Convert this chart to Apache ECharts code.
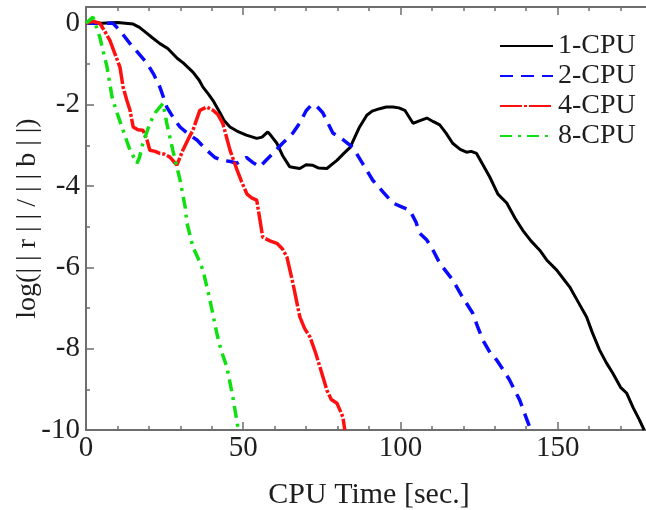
<!DOCTYPE html>
<html lang="en">
<head>
<meta charset="UTF-8">
<title>CPU residual</title>
<style>
    html, body { margin: 0; padding: 0; background: #fff; }
    #main { width: 646px; height: 510px; }
</style>
</head>
<body>
<div id="main"></div>
<script src="https://cdn.jsdelivr.net/npm/echarts@6/dist/echarts.min.js"></script>
<script>
    // series names and [time, log residual] points
    var names = ['1-CPU', '2-CPU', '4-CPU', '8-CPU'];
    var cpu1 = [[0,0],[5,0],[10,0.02],[15,-0.02],[17,-0.1],[19.4,-0.25],[21,-0.35],[23.5,-0.5],[26,-0.62],[29,-0.86],[31,-0.98],[34,-1.2],[36,-1.4],[37.2,-1.57],[39,-1.75],[40.4,-1.9],[42.6,-2.2],[44,-2.4],[45.8,-2.55],[48,-2.65],[51,-2.75],[54.3,-2.83],[56,-2.8],[57.8,-2.67],[59,-2.78],[60.7,-2.95],[62.5,-3.25],[64.8,-3.53],[66.5,-3.55],[68,-3.57],[70,-3.48],[72,-3.49],[74,-3.56],[76.6,-3.57],[78.5,-3.45],[79.8,-3.37],[82,-3.2],[84,-3.05],[85.5,-2.8],[87,-2.55],[89.3,-2.26],[91,-2.16],[93.4,-2.1],[95.5,-2.06],[97.6,-2.06],[99.5,-2.08],[101.4,-2.14],[102.7,-2.3],[104,-2.46],[106,-2.4],[108.4,-2.33],[110.5,-2.42],[112.5,-2.5],[114.5,-2.7],[116.6,-2.95],[119,-3.1],[121,-3.17],[122.5,-3.15],[124.2,-3.2],[126,-3.45],[128.4,-3.78],[131,-4.2],[133.8,-4.42],[136.5,-4.8],[138.9,-5.09],[141.5,-5.35],[144.3,-5.58],[146.5,-5.82],[149.7,-6.07],[151.5,-6.25],[153.8,-6.48],[156.5,-6.85],[159.2,-7.22],[161,-7.6],[163.3,-8.03],[165.5,-8.35],[167.5,-8.6],[170,-8.95],[171.9,-9.09],[174,-9.45],[176,-9.75],[177.5,-10]];
    var cpu2 = [[0,0],[5,0],[8.6,0],[11,-0.2],[14,-0.5],[16.5,-0.72],[19.4,-0.98],[21.5,-1.25],[23.5,-1.57],[25.7,-2.06],[28,-2.35],[29.9,-2.55],[32.5,-2.72],[35.3,-2.87],[38.4,-3.12],[41,-3.3],[43.5,-3.37],[46,-3.4],[48,-3.44],[51,-3.3],[53,-3.42],[55.3,-3.53],[57.5,-3.35],[59.4,-3.2],[62.5,-2.95],[65.8,-2.7],[68,-2.45],[70,-2.15],[71.8,-2.0],[73.5,-2.05],[75.3,-2.2],[78.5,-2.7],[81.5,-2.85],[84.8,-3.05],[88,-3.45],[91.2,-3.86],[94.5,-4.15],[97.6,-4.42],[100,-4.5],[103,-4.6],[105,-4.9],[106.1,-5.16],[108.4,-5.33],[110.5,-5.6],[112.5,-5.9],[114.5,-6.1],[116.6,-6.31],[119.5,-6.7],[123,-7.13],[124.5,-7.45],[126.2,-7.79],[128.5,-8.1],[130.6,-8.28],[132.5,-8.5],[134.7,-8.77],[136.5,-9.05],[137.9,-9.26],[139.5,-9.6],[141.1,-9.93],[141.5,-10]];
    var cpu4 = [[0,0],[2,0.05],[4.4,0],[6,-0.2],[7.6,-0.42],[9.2,-0.75],[10.8,-1.08],[11.8,-1.57],[13,-1.9],[14,-2.14],[15,-2.55],[16.5,-2.62],[18.1,-2.63],[19.4,-2.87],[20.3,-3.12],[22,-3.15],[23.5,-3.2],[25,-3.22],[26.7,-3.29],[28.9,-3.49],[30.8,-3.12],[32.5,-2.85],[34,-2.63],[36.2,-2.14],[38.4,-2.06],[40.4,-2.14],[42,-2.25],[43.5,-2.46],[45.8,-3.12],[48,-3.6],[49.5,-3.9],[51.2,-4.2],[52.8,-4.3],[54.3,-4.35],[56.2,-5.26],[58.5,-5.35],[60.7,-5.41],[62.5,-5.55],[63.9,-5.75],[65.8,-6.39],[68,-7.22],[69.5,-7.5],[71.2,-7.71],[73,-8.1],[74.4,-8.45],[76.6,-9.02],[78,-9.25],[79.8,-9.34],[81.7,-9.68],[82.3,-10]];
    var cpu8 = [[0,0],[2.2,0.15],[4.4,-0.34],[5.5,-0.7],[6.7,-1.08],[8.3,-1.82],[9.9,-2.21],[11.8,-2.63],[13,-2.9],[14,-3.12],[16.2,-3.44],[17,-3.3],[18.1,-2.95],[20.3,-2.46],[22,-2.2],[23.5,-2.06],[24.5,-1.97],[25.7,-2.46],[27.6,-3.12],[29.9,-3.85],[31.5,-4.5],[32.1,-4.91],[34,-5.5],[35.5,-5.75],[37.2,-6.07],[39.4,-6.8],[41.6,-7.62],[43,-8.05],[44.8,-8.45],[46.7,-9.19],[48.3,-9.93],[48.5,-10]];

    var font = 'Liberation Serif';
    var axisGray = '#6e6e6e';
    var textColor = '#1e1e1e';

    var myChart = echarts.init(document.getElementById('main'), null, {renderer: 'canvas'});

    function line(name, data, color, width, dash) {
        return {
            name: name,
            type: 'line',
            data: data,
            symbol: 'circle',
            symbolSize: 0,
            showSymbol: false,
            clip: true,
            lineStyle: {color: color, width: width, type: dash},
            itemStyle: {color: color}
        };
    }

    var xTicks = {
        axisLine: {onZero: false, lineStyle: {color: axisGray, width: 2}},
        axisTick: {inside: true, length: 8, lineStyle: {color: axisGray, width: 1.5}},
        minorTick: {show: true, splitNumber: 5, length: 4, lineStyle: {color: axisGray, width: 1.5}},
        splitLine: {show: false}
    };

    var option = {
        animation: false,
        backgroundColor: '#fff',
        grid: {left: 86, top: 7, right: -6, bottom: 80, outerBoundsMode: 'none', containLabel: false},
        legend: {
            data: names,
            orient: 'vertical',
            left: 499,
            top: 32,
            padding: 0,
            itemWidth: 53,
            itemHeight: 14,
            itemGap: 2,
            itemStyle: {opacity: 0},
            textStyle: {fontFamily: font, fontSize: 28, color: textColor}
        },
        xAxis: [
            Object.assign({
                type: 'value',
                min: 0,
                max: 180,
                interval: 50,
                name: 'CPU Time [sec.]',
                nameLocation: 'middle',
                nameGap: 50,
                nameMoveOverlap: false,
                nameTextStyle: {fontFamily: font, fontSize: 30, color: textColor},
                axisLabel: {
                    fontFamily: font, fontSize: 29, color: textColor, margin: 4,
                    formatter: function (v) { return v % 50 === 0 ? v : ''; }
                }
            }, xTicks),
            Object.assign({
                type: 'value',
                position: 'top',
                min: 0,
                max: 180,
                interval: 50,
                axisLabel: {show: false}
            }, xTicks)
        ],
        yAxis: {
            type: 'value',
            min: -10,
            max: 0.4,
            interval: 2,
            name: 'log(| | r | | / | | b | |)',
            nameLocation: 'middle',
            nameGap: 44,
            nameMoveOverlap: false,
            nameTextStyle: {fontFamily: font, fontSize: 28, color: textColor},
            axisLine: {onZero: false, lineStyle: {color: axisGray, width: 2}},
            axisTick: {inside: true, length: 8, lineStyle: {color: axisGray, width: 1.5}},
            minorTick: {show: true, splitNumber: 2, length: 4, lineStyle: {color: axisGray, width: 1.5}},
            splitLine: {show: false},
            axisLabel: {
                fontFamily: font, fontSize: 29, color: textColor, margin: 6,
                formatter: function (v) { return v % 2 === 0 ? v : ''; }
            }
        },
        series: [
            line(names[0], cpu1, '#000000', 3, 'solid'),
            line(names[1], cpu2, '#0a0aff', 3.5, [13, 8]),
            line(names[2], cpu4, '#ff1010', 3.5, [22, 2, 3, 2]),
            line(names[3], cpu8, '#10e010', 3.5, [12, 6, 3, 6])
        ]
    };

    myChart.setOption(option);
</script>
</body>
</html>
